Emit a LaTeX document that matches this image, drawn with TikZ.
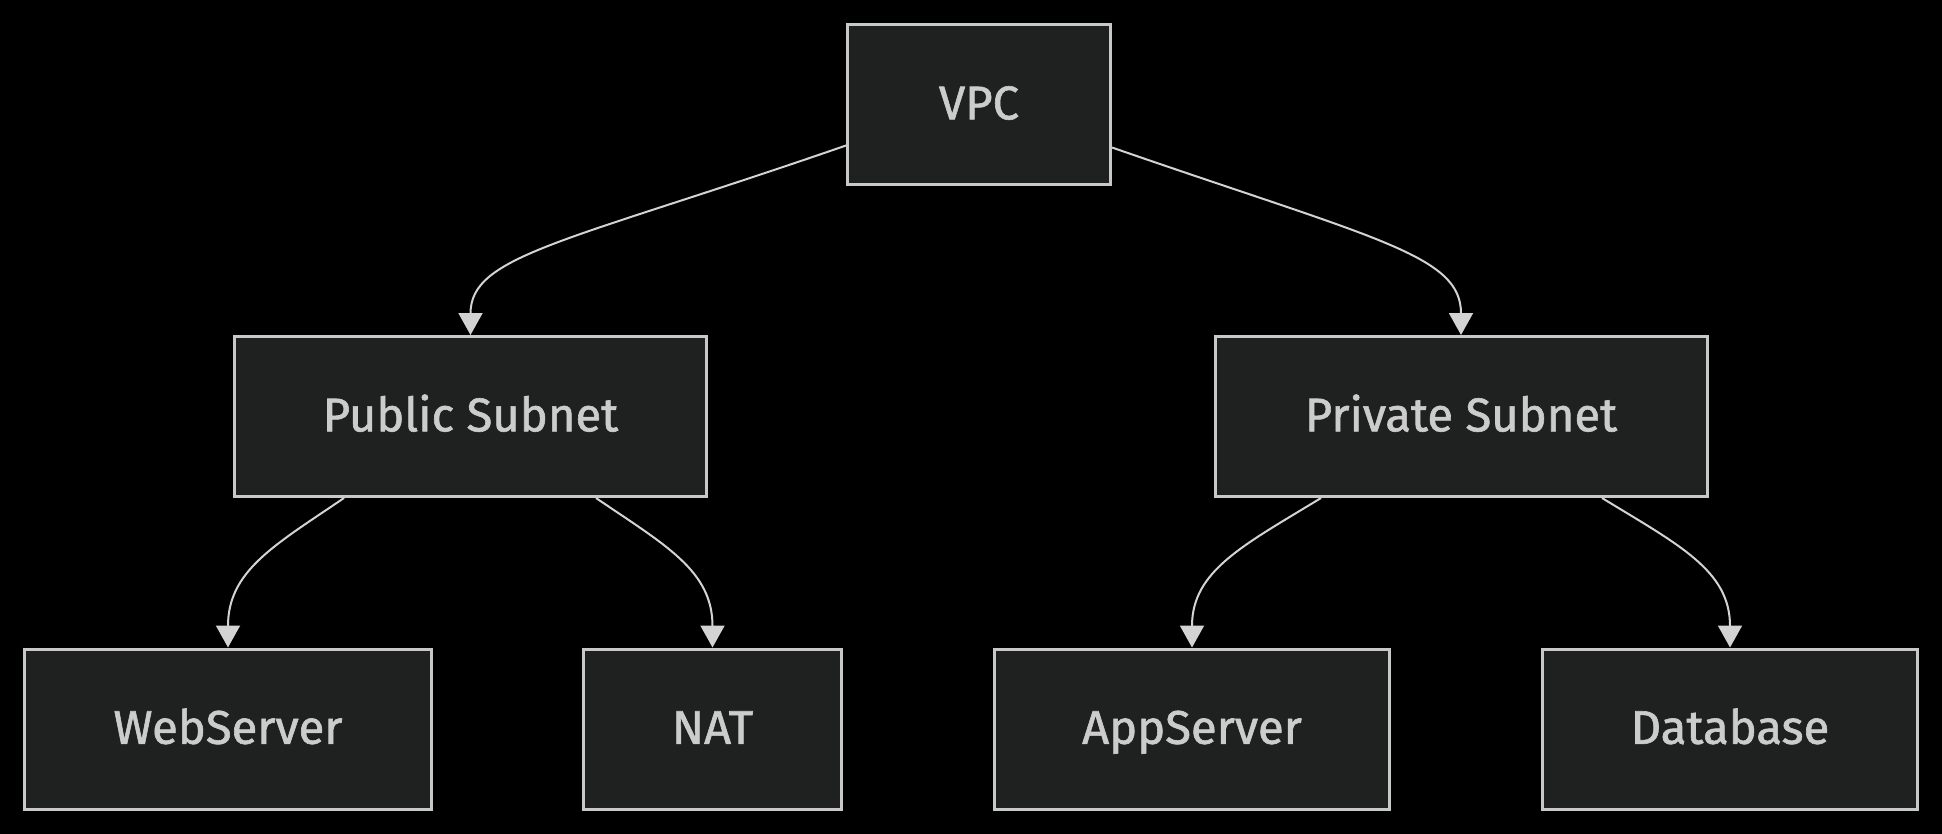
\documentclass[tikz,border=0pt]{standalone}
\usepackage{fontspec}
\setmainfont{Fira Sans}
\newfontfamily\nodefont[RawFeature={embolden=1.3}]{Fira Sans}
\usetikzlibrary{arrows.meta,calc}
\definecolor{bgcol}{HTML}{000000}
\definecolor{nodefill}{HTML}{1F2020}
\definecolor{nodeborder}{HTML}{C8C8C8}
\definecolor{txtcol}{HTML}{CCCCCC}
\definecolor{edgecol}{HTML}{D3D3D3}
\begin{document}
\begin{tikzpicture}[x=0.5pt,y=-0.5pt,
  box/.style={draw=nodeborder, fill=nodefill, line width=1.5pt, text=txtcol,
    font=\nodefont\fontsize{23.6}{28}\selectfont, minimum height=80pt, inner sep=0pt,
    text height=16.3pt, text depth=1.5pt},
  link/.style={draw=edgecol, line width=1pt,
    -{Triangle[length=11pt,width=12pt]}}]
\fill[bgcol] (0,0) rectangle (1942,834);
\node[box, minimum width=131.5pt] (vpc) at (979,104.5) {VPC};
\node[box, minimum width=236pt] (pub) at (470.5,416.5) {Public Subnet};
\node[box, minimum width=246pt] (priv) at (1461,416.5) {Private Subnet};
\node[box, minimum width=203.5pt] (web) at (228,729) {WebServer};
\node[box, minimum width=129pt] (nat) at (712.5,729) {NAT};
\node[box, minimum width=197.5pt] (app) at (1192,729) {AppServer};
\node[box, minimum width=187.5pt] (db) at (1730,729) {Database};
\draw[link] ($(vpc.west)+(0,41)$) .. controls +(-280,97) and +(0,-80) .. (pub.north);
\draw[link] ($(vpc.east)+(0,43)$) .. controls +(265,92) and +(0,-80) .. (priv.north);
\draw[link] ($(pub.south)+(-126.5,0)$) .. controls +(-69,47) and +(0,-77) .. (web.north);
\draw[link] ($(pub.south)+(125.5,0)$) .. controls +(69,47) and +(0,-77) .. (nat.north);
\draw[link] ($(priv.south)+(-140,0)$) .. controls +(-77,47) and +(0,-77) .. (app.north);
\draw[link] ($(priv.south)+(141,0)$) .. controls +(77,47) and +(0,-77) .. (db.north);
\end{tikzpicture}
\end{document}
